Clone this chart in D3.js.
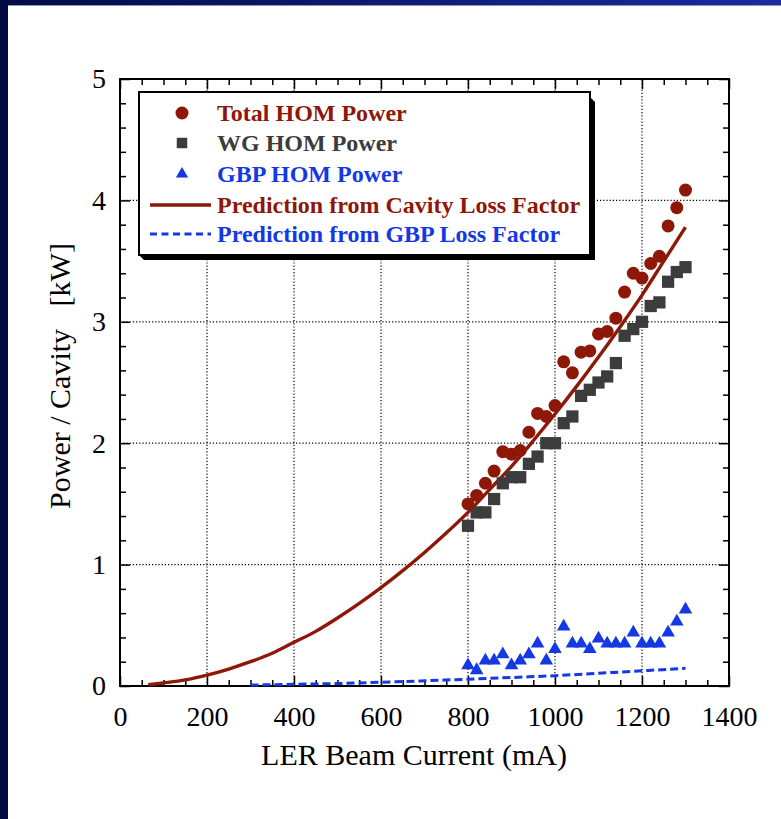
<!DOCTYPE html>
<html>
<head>
<meta charset="utf-8">
<script src="https://cdn.jsdelivr.net/npm/d3@7"></script>
<style>
  body { margin: 0; background: #fff; }
  svg { display: block; }
</style>
</head>
<body>
<div id="chart"></div>
<script>
// measured points (beam current in mA, power in kW)
const current = [800, 820, 840, 860, 880, 900, 920, 940, 960, 980, 1000, 1020, 1040,
  1060, 1080, 1100, 1120, 1140, 1160, 1180, 1200, 1220, 1240, 1260, 1280, 1300];
const totalPower = [1.50, 1.57, 1.67, 1.77, 1.93, 1.91, 1.94, 2.09, 2.245, 2.22, 2.31, 2.67, 2.58,
  2.75, 2.76, 2.90, 2.92, 3.03, 3.245, 3.40, 3.36, 3.48, 3.54, 3.79, 3.94, 4.085];
const wgPower = [1.32, 1.43, 1.43, 1.54, 1.67, 1.72, 1.72, 1.83, 1.89, 2.0, 2.0, 2.165, 2.22,
  2.39, 2.44, 2.50, 2.55, 2.66, 2.885, 2.94, 3.0, 3.13, 3.16, 3.33, 3.41, 3.45];
const gbpPower = [0.17, 0.13, 0.21, 0.21, 0.26, 0.17, 0.21, 0.26, 0.35, 0.21, 0.305, 0.49, 0.35,
  0.35, 0.305, 0.39, 0.35, 0.35, 0.35, 0.44, 0.35, 0.35, 0.35, 0.44, 0.53, 0.63];

// prediction curves
const cavityCurrent = [65, 100, 150, 200, 250, 300, 350, 400, 450, 500, 550, 600, 650, 700,
  750, 800, 850, 900, 950, 1000, 1050, 1100, 1150, 1200, 1250, 1300];
const cavityPred = [0.01, 0.025, 0.05, 0.09, 0.14, 0.20, 0.27, 0.36, 0.45, 0.56, 0.68, 0.81, 0.95,
  1.10, 1.26, 1.43, 1.62, 1.81, 2.02, 2.24, 2.47, 2.71, 2.96, 3.22, 3.50, 3.78];
const gbpCurrent = [300, 400, 500, 600, 700, 800, 900, 1000, 1100, 1200, 1300];
const gbpPred = [0.008, 0.014, 0.02, 0.031, 0.043, 0.056, 0.07, 0.085, 0.105, 0.125, 0.146];

const xTicks = [0, 200, 400, 600, 800, 1000, 1200, 1400];
const yTicks = [0, 1, 2, 3, 4, 5];
const legendLabels = ["Total HOM Power", "WG HOM Power", "GBP HOM Power",
  "Prediction from Cavity Loss Factor", "Prediction from GBP Loss Factor"];

const colors = { total: "#8e1807", wg: "#3c3c3c", gbp: "#1438e4" };
const font = "'Liberation Serif', 'Times New Roman', serif";

const W = 781, H = 819;
const svg = d3.select("#chart").append("svg").attr("width", W).attr("height", H);

// slide frame
const defs = svg.append("defs");
const grad = defs.append("linearGradient").attr("id", "topband");
grad.append("stop").attr("offset", "0%").attr("stop-color", "#020a42");
grad.append("stop").attr("offset", "100%").attr("stop-color", "#1a2ca0");
svg.append("rect").attr("width", W).attr("height", H).attr("fill", "#fff");
svg.append("rect").attr("x", 0).attr("y", 0).attr("width", W).attr("height", 5).attr("fill", "url(#topband)");
svg.append("rect").attr("x", 8).attr("y", 5).attr("width", W).attr("height", 1).attr("fill", "#8f93c8");
svg.append("rect").attr("x", 0).attr("y", 0).attr("width", 8).attr("height", H).attr("fill", "#020a42");

const x = d3.scaleLinear().domain([0, 1400]).range([120, 729]);
const y = d3.scaleLinear().domain([0, 5]).range([686, 79]);

// grid
const grid = svg.append("g").attr("stroke", "#000").attr("stroke-width", 1.2).attr("stroke-dasharray", "1.2,2");
grid.selectAll(".gx").data(xTicks.slice(1, -1)).join("line")
  .attr("x1", d => x(d)).attr("x2", d => x(d)).attr("y1", y(0)).attr("y2", y(5));
grid.selectAll(".gy").data(yTicks.slice(1, -1)).join("line")
  .attr("x1", x(0)).attr("x2", x(1400)).attr("y1", d => y(d)).attr("y2", d => y(d));

// axes with inward ticks on all four sides
const xMinor = d3.range(0, 1401, 50).filter(d => d % 200 !== 0);
const yMinor = d3.range(0, 5.001, 0.2).filter(d => Math.abs(d - Math.round(d)) > 1e-6);

function styleAxis(g) {
  g.select(".domain").remove();
  g.selectAll("line").attr("stroke", "#000").attr("stroke-width", 1.5);
  g.selectAll("text").attr("font-family", font).attr("font-size", 28).attr("fill", "#000");
}

svg.append("g").attr("transform", `translate(0,${y(0)})`)
  .call(d3.axisBottom(x).tickValues(xTicks).tickSize(-10).tickPadding(20).tickFormat(d3.format("d")))
  .call(styleAxis);
svg.append("g").attr("transform", `translate(0,${y(0)})`)
  .call(d3.axisBottom(x).tickValues(xMinor).tickSize(-6).tickFormat(""))
  .call(styleAxis);
svg.append("g").attr("transform", `translate(0,${y(5)})`)
  .call(d3.axisTop(x).tickValues(xTicks).tickSize(-10).tickFormat(""))
  .call(styleAxis);
svg.append("g").attr("transform", `translate(0,${y(5)})`)
  .call(d3.axisTop(x).tickValues(xMinor).tickSize(-6).tickFormat(""))
  .call(styleAxis);
svg.append("g").attr("transform", `translate(${x(0)},0)`)
  .call(d3.axisLeft(y).tickValues(yTicks).tickSize(-10).tickPadding(14).tickFormat(d3.format("d")))
  .call(styleAxis);
svg.append("g").attr("transform", `translate(${x(0)},0)`)
  .call(d3.axisLeft(y).tickValues(yMinor).tickSize(-6).tickFormat(""))
  .call(styleAxis);
svg.append("g").attr("transform", `translate(${x(1400)},0)`)
  .call(d3.axisRight(y).tickValues(yTicks).tickSize(-10).tickFormat(""))
  .call(styleAxis);
svg.append("g").attr("transform", `translate(${x(1400)},0)`)
  .call(d3.axisRight(y).tickValues(yMinor).tickSize(-6).tickFormat(""))
  .call(styleAxis);

svg.append("rect")
  .attr("x", x(0)).attr("y", y(5)).attr("width", x(1400) - x(0)).attr("height", y(0) - y(5))
  .attr("fill", "none").attr("stroke", "#000").attr("stroke-width", 2);

// axis titles
svg.append("text").attr("x", 414).attr("y", 765).attr("text-anchor", "middle")
  .attr("font-family", font).attr("font-size", 30).text("LER Beam Current (mA)");
svg.append("text").attr("transform", "translate(70,376) rotate(-90)").attr("text-anchor", "middle")
  .attr("font-family", font).attr("font-size", 30).attr("xml:space", "preserve")
  .text("Power / Cavity   [kW]");

// prediction lines
const line = d3.line().x(d => x(d[0])).y(d => y(d[1])).curve(d3.curveMonotoneX);
svg.append("path").datum(d3.zip(gbpCurrent, gbpPred)).attr("d", line)
  .attr("fill", "none").attr("stroke", colors.gbp).attr("stroke-width", 3).attr("stroke-dasharray", "8,4");
svg.append("path").datum(d3.zip(cavityCurrent, cavityPred)).attr("d", line)
  .attr("fill", "none").attr("stroke", colors.total).attr("stroke-width", 3.4);

// markers
const sq = d3.symbol().type(d3.symbolSquare).size(150);
const tri = d3.symbol().type(d3.symbolTriangle).size(80);

svg.append("g").selectAll("path").data(d3.zip(current, gbpPower)).join("path")
  .attr("d", tri).attr("transform", d => `translate(${x(d[0])},${y(d[1])})`).attr("fill", colors.gbp);
svg.append("g").selectAll("rect").data(d3.zip(current, wgPower)).join("path")
  .attr("d", sq).attr("transform", d => `translate(${x(d[0])},${y(d[1])})`).attr("fill", colors.wg);
svg.append("g").selectAll("circle").data(d3.zip(current, totalPower)).join("circle")
  .attr("cx", d => x(d[0])).attr("cy", d => y(d[1])).attr("r", 6.5).attr("fill", colors.total);

// legend
const lg = svg.append("g");
lg.append("path").attr("d", "M590,97 L595,102 L595,260 L144,260 L139,255 L590,255 Z").attr("fill", "#000");
lg.append("rect").attr("x", 139).attr("y", 92).attr("width", 451).attr("height", 163)
  .attr("fill", "#fff").attr("stroke", "#000").attr("stroke-width", 2);

const rowY = [113, 143, 174, 205, 234];
const rowColor = [colors.total, colors.wg, colors.gbp, colors.total, colors.gbp];
lg.append("circle").attr("cx", 182).attr("cy", rowY[0]).attr("r", 6.5).attr("fill", colors.total);
lg.append("path").attr("d", d3.symbol().type(d3.symbolSquare).size(110))
  .attr("transform", `translate(182,${rowY[1]})`).attr("fill", colors.wg);
lg.append("path").attr("d", d3.symbol().type(d3.symbolTriangle).size(65))
  .attr("transform", `translate(182,${rowY[2]})`).attr("fill", colors.gbp);
lg.append("line").attr("x1", 150).attr("x2", 211).attr("y1", rowY[3]).attr("y2", rowY[3])
  .attr("stroke", colors.total).attr("stroke-width", 3.4);
lg.append("line").attr("x1", 150).attr("x2", 211).attr("y1", rowY[4]).attr("y2", rowY[4])
  .attr("stroke", colors.gbp).attr("stroke-width", 3).attr("stroke-dasharray", "7,4.5");

lg.selectAll("text").data(legendLabels).join("text")
  .attr("x", 217).attr("y", (d, i) => rowY[i] + 8)
  .attr("font-family", font).attr("font-size", 24).attr("font-weight", "bold")
  .attr("fill", (d, i) => rowColor[i]).text(d => d);
</script>
</body>
</html>
